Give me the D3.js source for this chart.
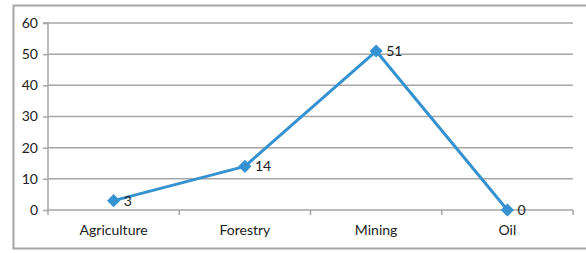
<!DOCTYPE html>
<html>
<head>
<meta charset="utf-8">
<script src="https://cdn.jsdelivr.net/npm/d3@7"></script>
<style>
  body { margin: 0; background: #fff; }
  text { font-family: Lato, "Open Sans", sans-serif; fill: #222; }
</style>
</head>
<body>
<svg></svg>
<script>
var categories = ['Agriculture', 'Forestry', 'Mining', 'Oil'];
var values = [3, 14, 51, 0];
var yTicks = [0, 10, 20, 30, 40, 50, 60];

const W = 586, H = 253;
const margin = {top: 23, right: 13, bottom: 43, left: 48};
const innerW = W - margin.left - margin.right;
const innerH = H - margin.top - margin.bottom;

var svg = d3.select('svg').attr('width', W).attr('height', H);

// outer chart border (runs off the right edge)
svg.append('path')
   .attr('d', 'M600,5.5 H13.5 V248.5 H600')
   .attr('fill', 'none')
   .attr('stroke', '#a6a6a6')
   .attr('stroke-width', 2);

var g = svg.append('g').attr('transform', `translate(${margin.left},${margin.top})`);

const x = d3.scaleBand().domain(categories).range([0, innerW]);
const y = d3.scaleLinear().domain([0, 60]).range([innerH, 0]);

// gridlines
g.selectAll('.grid').data(yTicks.filter(d => d > 0)).enter()
  .append('line')
  .attr('x1', 0).attr('x2', innerW)
  .attr('y1', d => y(d)).attr('y2', d => y(d))
  .attr('stroke', '#a6a6a6').attr('stroke-width', 1.5);

// y axis
var yAxis = g.append('g').call(d3.axisLeft(y).tickValues(yTicks).tickSize(5).tickPadding(5));
yAxis.select('.domain').attr('stroke', '#a6a6a6').attr('stroke-width', 1.5).attr('d', `M-5,0H0V${innerH}`);
yAxis.selectAll('.tick line').attr('stroke', '#a6a6a6').attr('stroke-width', 1.5);
yAxis.selectAll('text').style('font-size', '14px').attr('fill', '#222');

// x axis
var xAxis = g.append('g').attr('transform', `translate(0,${innerH})`)
  .call(d3.axisBottom(x).tickSize(0).tickPadding(15));
xAxis.select('.domain').attr('stroke', '#a6a6a6').attr('stroke-width', 1.5).attr('d', `M0,0H${innerW}`);
xAxis.selectAll('text').style('font-size', '14px').attr('fill', '#222');
// category boundary ticks
var bounds = categories.map(c => x(c)).concat([innerW]);
xAxis.selectAll('.btick').data(bounds).enter()
  .append('line')
  .attr('x1', d => d).attr('x2', d => d)
  .attr('y1', 0).attr('y2', 5)
  .attr('stroke', '#a6a6a6').attr('stroke-width', 1.5);

var pts = categories.map((c, i) => ({c: c, v: values[i]}));
var cx = d => x(d.c) + x.bandwidth() / 2;

g.append('path')
  .datum(pts)
  .attr('fill', 'none')
  .attr('stroke', '#3592d0')
  .attr('stroke-width', 3)
  .attr('stroke-linejoin', 'round')
  .attr('d', d3.line().x(cx).y(d => y(d.v)));

g.selectAll('.mk').data(pts).enter()
  .append('path')
  .attr('d', d3.symbol().type(d3.symbolDiamond2).size(110))
  .attr('transform', d => `translate(${cx(d)},${y(d.v)})`)
  .attr('fill', '#3592d0');

g.selectAll('.lbl').data(pts).enter()
  .append('text')
  .attr('x', d => cx(d) + 10)
  .attr('y', d => y(d.v) + 5)
  .style('font-size', '14px')
  .text(d => d.v);
</script>
</body>
</html>
